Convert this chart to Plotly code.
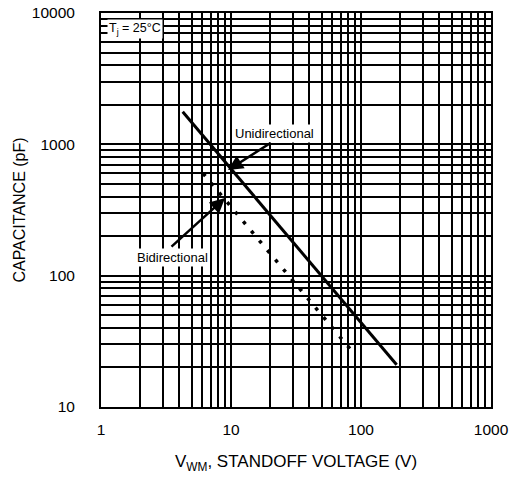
import plotly.graph_objects as go

# Data
uni_v = [4.25, 188]
uni_c = [1770, 21]
bi_v = [6.1, 87]
bi_c = [600, 26]

x_tickvals = [1, 10, 100, 1000]
x_ticktext = ["1", "10", "100", "1000"]
y_tickvals = [10, 100, 1000, 10000]
y_ticktext = ["10", "100", "1000", "10000"]

FONT = "Liberation Sans, Arial, sans-serif"

fig = go.Figure()
fig.add_trace(go.Scatter(x=uni_v, y=uni_c, mode="lines",
                         line=dict(color="black", width=3), showlegend=False))
fig.add_trace(go.Scatter(x=bi_v, y=bi_c, mode="lines",
                         line=dict(color="black", width=3.5, dash="3.5px,9px"),
                         showlegend=False))

axis_common = dict(
    type="log", showgrid=True, gridcolor="black", gridwidth=2,
    showline=True, linecolor="black", linewidth=2, mirror=True,
    ticks="", zeroline=False, automargin=False, ticklabeloverflow="allow",
    minor=dict(showgrid=True, gridcolor="black", gridwidth=1.6, dtick="D1", ticks=""),
    tickfont=dict(family=FONT, size=15.5, color="black"),
)

fig.update_xaxes(range=[0, 3], tickvals=x_tickvals, ticktext=x_ticktext,
                 title=dict(text="V<sub>WM</sub>, STANDOFF VOLTAGE (V)",
                            font=dict(family=FONT, size=17, color="black"), standoff=19),
                 **axis_common)
fig.update_yaxes(range=[1, 4], tickvals=y_tickvals, ticktext=y_ticktext,
                 title=dict(text="CAPACITANCE (pF)",
                            font=dict(family=FONT, size=16, color="black"), standoff=2),
                 **axis_common)
fig.update_xaxes(ticklabelstandoff=7)
fig.update_yaxes(ticklabelstandoff=21)

annotations = [
    dict(x=0.015, y=0.959, xref="paper", yref="paper", xanchor="left", yanchor="middle",
         text="T<sub>j</sub> = 25°C", showarrow=False, bgcolor="white",
         font=dict(family=FONT, size=12.5, color="black")),
    dict(x=1.017, y=3.086, xref="x", yref="y", xanchor="left", yanchor="middle",
         text="Unidirectional", showarrow=False, bgcolor="white", borderpad=1,
         font=dict(family=FONT, size=13, color="black")),
    dict(x=0.2615, y=2.142, xref="x", yref="y", xanchor="left", yanchor="middle",
         text="Bidirectional", showarrow=False, bgcolor="white", borderpad=1,
         font=dict(family=FONT, size=13, color="black")),
    dict(x=0.977, y=2.804, xref="x", yref="y", text="", showarrow=True,
         ax=44, ay=-28, arrowhead=2, arrowsize=1.2, arrowwidth=2.5, arrowcolor="black"),
    dict(x=0.954, y=2.591, xref="x", yref="y", text="", showarrow=True,
         ax=-55, ay=50, arrowhead=2, arrowsize=1.2, arrowwidth=2.5, arrowcolor="black"),
]

fig.update_layout(
    width=514, height=479,
    margin=dict(l=101, r=23, t=13, b=72),
    paper_bgcolor="white", plot_bgcolor="white",
    annotations=annotations,
    font=dict(family=FONT, color="black"),
)

fig.write_html(
    "out.html",
    config={"displayModeBar": False},
    post_script="document.body.style.margin='0';document.body.style.overflow='hidden';",
)
